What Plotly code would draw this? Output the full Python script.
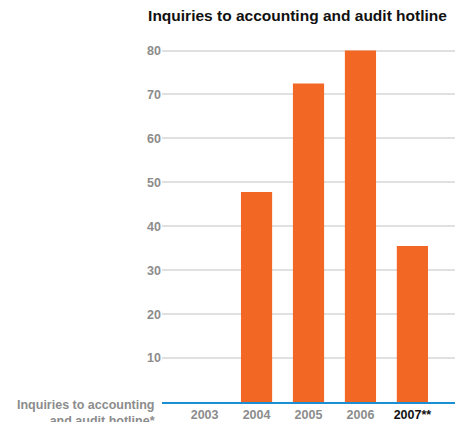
import plotly.graph_objects as go

years = ["2003", "2004", "2005", "2006", "2007"]
year_labels = ["2003", "2004", "2005", "2006", "<span style='color:#111111'>2007**</span>"]
inquiries = [None, 47.8, 72.5, 80, 35.5]
y_ticks = [10, 20, 30, 40, 50, 60, 70, 80]

ORANGE = "#f36724"
BLUE = "#1b8fd4"
GRAY_TEXT = "#8c8c8c"
GRID = "#e0e0e0"
FONT = "Liberation Sans, Arial, sans-serif"

fig = go.Figure(
    go.Bar(
        x=years,
        y=inquiries,
        width=0.6,
        marker=dict(color=ORANGE, line=dict(width=0)),
        hoverinfo="x+y",
    )
)

fig.update_layout(
    width=455,
    height=422,
    margin=dict(l=162, r=0, t=40, b=20),
    paper_bgcolor="white",
    plot_bgcolor="white",
    showlegend=False,
    font=dict(family=FONT, size=12.5, color=GRAY_TEXT),
    title=dict(
        text="<b>Inquiries to accounting and audit hotline</b>",
        font=dict(family=FONT, size=15.5, color="#111111"),
        xref="container",
        yref="container",
        x=297.5 / 455,
        y=1 - 16 / 422,
        xanchor="center",
        yanchor="middle",
    ),
    bargap=0.4,
)

fig.update_xaxes(
    type="category",
    range=[-0.82, 4.82],
    tickvals=years,
    ticktext=[f"<b>{t}</b>" for t in year_labels],
    showgrid=False,
    showline=True,
    linecolor=BLUE,
    linewidth=2,
    ticks="",
    tickfont=dict(family=FONT, size=12.5, color=GRAY_TEXT),
    zeroline=False,
    fixedrange=True,
)

fig.update_yaxes(
    range=[0, 82.4],
    tickvals=y_ticks,
    ticktext=[f"<b>{v}</b>" for v in y_ticks],
    showgrid=True,
    gridcolor=GRID,
    gridwidth=2,
    zeroline=False,
    showline=False,
    ticks="",
    tickfont=dict(family=FONT, size=12.5, color=GRAY_TEXT),
    fixedrange=True,
)

# Row label for the category axis, sitting left of the baseline
fig.add_annotation(
    text="<b>Inquiries to accounting<br>and audit hotline*</b>",
    xref="paper",
    yref="y",
    x=(157 - 162) / 293,
    y=0,
    xanchor="right",
    yanchor="top",
    yshift=6,
    align="right",
    showarrow=False,
    font=dict(family=FONT, size=12.5, color=GRAY_TEXT),
)

fig.write_html("out.html")
